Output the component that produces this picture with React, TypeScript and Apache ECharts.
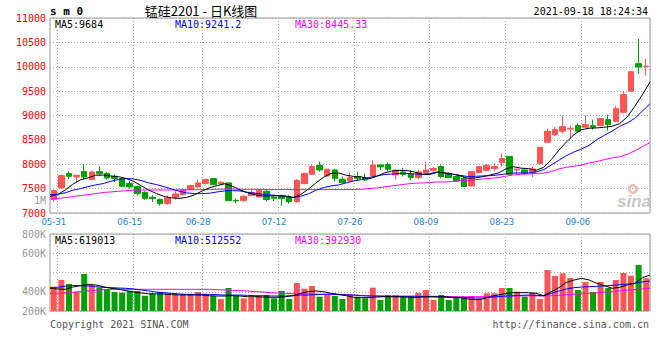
import React, { useEffect, useRef } from "react";
import * as echarts from "echarts";

// ---------- data ----------
const dates = [
  "05-31","06-01","06-02","06-03","06-04","06-07","06-08","06-09","06-10","06-11",
  "06-15","06-16","06-17","06-18","06-21","06-22","06-23","06-24","06-25","06-28",
  "06-29","06-30","07-01","07-02","07-05","07-06","07-07","07-08","07-09","07-12",
  "07-13","07-14","07-15","07-16","07-19","07-20","07-21","07-22","07-23","07-26",
  "07-27","07-28","07-29","07-30","08-02","08-03","08-04","08-05","08-06","08-09",
  "08-10","08-11","08-12","08-13","08-16","08-17","08-18","08-19","08-20","08-23",
  "08-24","08-25","08-26","08-27","08-30","08-31","09-01","09-02","09-03","09-06",
  "09-07","09-08","09-09","09-10","09-13","09-14","09-15","09-16","09-17",
];
const labeledDates = ["05-31", "06-15", "06-28", "07-12", "07-26", "08-09", "08-23", "09-06"];

const opens = [
  7275, 7514, 7808, 7740, 7849, 7685, 7849, 7808, 7753, 7706,
  7603, 7541, 7425, 7323, 7275, 7193, 7323, 7377, 7480, 7535,
  7603, 7706, 7596, 7617, 7261, 7254, 7357, 7330, 7446, 7323,
  7340, 7328, 7233, 7603, 7794, 7972, 7761, 7883, 7692, 7658,
  7747, 7726, 7761, 7986, 7993, 7781, 7842, 7794, 7726, 7828,
  7876, 7952, 7808, 7747, 7706, 7556, 7828, 7876, 7911, 8034,
  8157, 7883, 7883, 7835, 8013, 8451, 8608, 8676, 8724, 8792,
  8759, 8792, 8792, 8915, 8881, 9066, 9497, 10064, 10003,
];
const closes = [
  7459, 7767, 7753, 7774, 7740, 7842, 7808, 7719, 7706, 7549,
  7535, 7398, 7295, 7295, 7193, 7309, 7391, 7473, 7562, 7617,
  7685, 7583, 7630, 7254, 7248, 7343, 7425, 7466, 7275, 7302,
  7300, 7233, 7672, 7808, 7952, 7883, 7897, 7712, 7624, 7726,
  7706, 7678, 7986, 7945, 7897, 7877, 7794, 7726, 7842, 7883,
  7911, 7747, 7726, 7658, 7542, 7849, 7952, 7979, 7952, 8116,
  7794, 7897, 7815, 7904, 8348, 8676, 8711, 8772, 8738, 8676,
  8813, 8759, 8936, 8813, 9141, 9428, 9900, 9996, 10010,
];
const lows = [
  7227, 7500, 7699, 7637, 7699, 7671, 7753, 7685, 7637, 7535,
  7500, 7357, 7275, 7227, 7152, 7172, 7275, 7357, 7466, 7514,
  7583, 7569, 7583, 7254, 7206, 7227, 7343, 7309, 7241, 7241,
  7150, 7193, 7213, 7589, 7781, 7849, 7747, 7644, 7603, 7644,
  7658, 7658, 7740, 7883, 7863, 7692, 7747, 7672, 7692, 7794,
  7849, 7712, 7712, 7644, 7535, 7542, 7815, 7849, 7863, 7945,
  7760, 7781, 7794, 7740, 8013, 8437, 8574, 8629, 8526, 8663,
  8745, 8711, 8779, 8690, 8861, 9052, 9497, 9852, 9825,
];
const highs = [
  7480, 7788, 7856, 7788, 7993, 7870, 7958, 7842, 7788, 7719,
  7651, 7562, 7446, 7364, 7295, 7357, 7446, 7500, 7583, 7685,
  7706, 7706, 7651, 7617, 7295, 7364, 7466, 7480, 7466, 7357,
  7380, 7364, 7692, 7829, 8000, 8054, 7911, 7897, 7747, 7829,
  7849, 7808, 8082, 7986, 8034, 7897, 7931, 7883, 7883, 8054,
  7945, 7979, 7829, 7760, 7740, 7849, 7952, 8013, 8020, 8218,
  8157, 7917, 7897, 7945, 8348, 8731, 8765, 8984, 8799, 8834,
  8998, 8915, 8950, 9018, 9189, 9497, 9900, 10569, 10160,
];
const volumes = [
  406000, 531000, 463000, 331000, 634000, 446000, 400000, 360000, 326000, 314000,
  348000, 343000, 262000, 297000, 326000, 303000, 286000, 286000, 286000, 326000,
  291000, 257000, 206000, 394000, 257000, 218000, 235000, 257000, 274000, 218000,
  343000, 206000, 480000, 382000, 429000, 245000, 274000, 257000, 206000, 274000,
  245000, 218000, 400000, 189000, 274000, 274000, 245000, 245000, 309000, 360000,
  189000, 274000, 189000, 245000, 218000, 257000, 200000, 303000, 303000, 394000,
  394000, 331000, 245000, 314000, 206000, 703000, 600000, 646000, 566000, 360000,
  497000, 326000, 497000, 394000, 531000, 651000, 605000, 789000, 561000,
];

// moving-average lines: first value at the left edge,
// then one value at the end of each trading day
const priceMA5 = [
  7340,
  7380, 7470, 7590, 7680, 7720, 7775, 7778, 7758, 7745, 7710,
  7650, 7560, 7470, 7400, 7340, 7310, 7300, 7320, 7370, 7450,
  7520, 7560, 7600, 7550, 7475, 7415, 7375, 7350, 7350, 7355,
  7350, 7320, 7375, 7490, 7615, 7730, 7812, 7820, 7775, 7750,
  7740, 7700, 7750, 7820, 7860, 7875, 7870, 7840, 7795, 7790,
  7835, 7825, 7800, 7760, 7715, 7720, 7745, 7780, 7820, 7900,
  7950, 7920, 7910, 7875, 7938, 8095, 8287, 8458, 8608, 8711,
  8738, 8745, 8759, 8779, 8834, 8970, 9189, 9428, 9684,
];
const priceMA10 = [
  7375,
  7385, 7415, 7466, 7500, 7541, 7576, 7603, 7651, 7685, 7706,
  7699, 7665, 7617, 7583, 7541, 7494, 7446, 7412, 7398, 7398,
  7405, 7432, 7453, 7459, 7453, 7425, 7405, 7384, 7371, 7357,
  7343, 7316, 7343, 7391, 7466, 7521, 7556, 7576, 7617, 7658,
  7685, 7726, 7760, 7788, 7801, 7808, 7812, 7801, 7794, 7808,
  7842, 7815, 7794, 7774, 7747, 7753, 7760, 7767, 7781, 7801,
  7822, 7822, 7822, 7842, 7890, 7986, 8082, 8177, 8253, 8314,
  8389, 8506, 8595, 8677, 8779, 8847, 8943, 9090, 9241.2,
];
const priceMA30 = [
  7290,
  7295, 7316, 7336, 7357, 7377, 7398, 7420, 7432, 7446, 7459,
  7466, 7470, 7473, 7473, 7473, 7473, 7473, 7476, 7478, 7480,
  7483, 7487, 7490, 7490, 7488, 7486, 7484, 7482, 7480, 7480,
  7480, 7480, 7480, 7480, 7480, 7480, 7480, 7480, 7480, 7482,
  7487, 7500, 7514, 7535, 7556, 7576, 7595, 7610, 7617, 7624,
  7637, 7637, 7644, 7665, 7672, 7685, 7699, 7712, 7726, 7753,
  7781, 7794, 7801, 7810, 7822, 7849, 7904, 7938, 7958, 7986,
  8027, 8054, 8095, 8129, 8150, 8205, 8275, 8360, 8445.33,
];
// volume moving averages, in thousands
const volMA5K = [
  389,
  377, 372, 411, 434, 457, 446, 417, 389, 377, 348,
  325, 310, 295, 295, 290, 280, 276, 274, 274, 274,
  262, 257, 257, 262, 257, 245, 245, 240, 235, 235,
  245, 262, 303, 331, 343, 331, 303, 286, 262, 235,
  229, 229, 240, 245, 245, 245, 240, 229, 240, 245,
  245, 245, 235, 229, 206, 194, 206, 251, 274, 297,
  314, 314, 314, 303, 262, 331, 400, 491, 531, 560,
  531, 474, 434, 389, 406, 446, 474, 570, 619.013,
];
const volMA10K = [
  406,
  406, 423, 440, 434, 429, 417, 406, 400, 394, 389,
  377, 360, 343, 326, 314, 303, 291, 286, 286, 286,
  286, 280, 274, 274, 274, 268, 262, 262, 257, 257,
  257, 262, 274, 274, 280, 286, 291, 280, 280, 274,
  262, 257, 257, 251, 245, 245, 245, 245, 245, 245,
  240, 235, 229, 229, 229, 223, 223, 235, 245, 257,
  262, 268, 274, 268, 262, 303, 343, 377, 400, 411,
  417, 423, 429, 440, 451, 463, 474, 500, 512.552,
];
const volMA30K = [
  300,
  303, 309, 320, 331, 343, 354, 366, 372, 372, 372,
  372, 372, 372, 372, 372, 372, 372, 372, 372, 372,
  372, 366, 360, 354, 348, 343, 331, 326, 314, 309,
  303, 297, 291, 291, 291, 286, 280, 280, 276, 272,
  266, 260, 257, 257, 257, 257, 257, 257, 255, 253,
  251, 249, 247, 245, 245, 245, 245, 245, 248, 251,
  257, 260, 260, 258, 257, 262, 270, 280, 288, 297,
  303, 312, 322, 332, 345, 357, 368, 380, 392.93,
];

const headerCode = "s m 0";
const headerTitle = "锰硅2201 - 日K线图";
const headerTime = "2021-09-18 18:24:34";
const priceLegend = [
  ["MA5", "9684"],
  ["MA10", "9241.2"],
  ["MA30", "8445.33"],
];
const volumeLegend = [
  ["MA5", "619013"],
  ["MA10", "512552"],
  ["MA30", "392930"],
];
const volumeTickLabels = ["200K", "400K", "", "600K", "800K"];
const strayVolumeLabel = "1M";
const footerLeft = "Copyright 2021 SINA.COM";
const footerRight = "http://finance.sina.com.cn";
const watermark = "sina";

// ---------- styles ----------
const UP = "#ff5555";
const DOWN = "#00a000";
const MA_COLORS = ["#000000", "#0000ff", "#ff00ff"];
const GRID_LINE = { color: "#aaaaaa", width: 1, type: [1, 2] as any };
const MONO = '"DejaVu Sans Mono", monospace';

function text(t: string, x: number, y: number, fill: string, font: string, align = "left", z = 100, bg?: string) {
  return {
    type: "text",
    x,
    y,
    z,
    style: {
      text: t,
      fill,
      font,
      align,
      verticalAlign: "middle",
      textAlign: align,
      textVerticalAlign: "middle",
      backgroundColor: bg,
    },
  };
}

export default function App() {
  const ref = useRef<HTMLDivElement>(null);

  useEffect(() => {
    if (!ref.current) return;
    const chart = echarts.init(ref.current, undefined, { renderer: "svg" });

    const isLabeled = (_i: number, v: string) => labeledDates.includes(v);
    const isSplit = (i: number) => i > 0 && labeledDates.includes(dates[i - 1]);

    const catAxis = (gridIndex: number, showLabel: boolean) => ({
      type: "category",
      gridIndex,
      data: dates,
      boundaryGap: true,
      axisLine: { show: false },
      axisTick: { show: false },
      axisLabel: {
        show: showLabel,
        interval: isLabeled,
        color: "#1a7fd9",
        fontFamily: '"DejaVu Sans Condensed", sans-serif',
        fontSize: 9.5,
        margin: 3,
      },
      splitLine: { show: true, interval: isSplit, lineStyle: GRID_LINE },
    });

    const lineSeries = (vals: number[], color: string, xAxisIndex: number, yAxisIndex: number) => ({
      type: "line",
      xAxisIndex,
      yAxisIndex,
      data: vals.map((v, k) => [k - 0.5, v]),
      symbol: "none",
      showSymbol: false,
      silent: true,
      lineStyle: { color, width: 1 },
    });

    const graphics: any[] = [
      text(headerCode, 50, 11, "#000", `bold 11px ${MONO}`),
      text(headerTitle, 201, 10, "#000", '13px "Noto Sans CJK SC"', "center"),
      text(headerTime, 648, 11, "#000", `10px ${MONO}`, "right"),
      text(strayVolumeLabel, 46, 200, "#999", `10px ${MONO}`, "right"),
      text(footerLeft, 50, 324, "#555", `10px ${MONO}`),
      text(footerRight, 649, 324, "#555", `10px ${MONO}`, "right"),
      {
        type: "ring",
        z: 1,
        shape: { cx: 633, cy: 189, r: 5, r0: 2.5 },
        style: { fill: "#f3b4b4" },
      },
      text(watermark, 617, 201, "#c8c8c8", 'italic bold 17px "Liberation Sans"', "left", 1),
    ];
    const legendX = [55, 175, 295];
    priceLegend.forEach(([n, v], k) =>
      graphics.push(text(`${n}:${v}`, legendX[k], 24, MA_COLORS[k], `10px ${MONO}`, "left", 100, "#fff"))
    );
    volumeLegend.forEach(([n, v], k) =>
      graphics.push(text(`${n}:${v}`, legendX[k], 240, MA_COLORS[k], `10px ${MONO}`, "left", 100, "#fff"))
    );

    const option: any = {
      animation: false,
      backgroundColor: "#ffffff",
      grid: [
        { left: 50, top: 18, width: 600, height: 195, show: true, borderColor: "#999", borderWidth: 1 },
        { left: 50, top: 234, width: 600, height: 77, show: true, borderColor: "#999", borderWidth: 1 },
      ],
      xAxis: [
        catAxis(0, true),
        catAxis(1, false),
        { type: "value", gridIndex: 0, min: -0.5, max: 78.5, show: false },
        { type: "value", gridIndex: 1, min: -0.5, max: 78.5, show: false },
      ],
      yAxis: [
        {
          type: "value",
          gridIndex: 0,
          min: 7000,
          max: 11000,
          interval: 500,
          axisLine: { show: false },
          axisTick: { show: false },
          axisLabel: { color: "#ff0000", fontFamily: MONO, fontSize: 10, margin: 4, formatter: (v: number) => String(v) },
          splitLine: { show: true, lineStyle: GRID_LINE },
        },
        {
          type: "value",
          gridIndex: 1,
          min: 0,
          max: 1320000,
          interval: 330000,
          axisLine: { show: false },
          axisTick: { show: false },
          axisLabel: {
            color: "#999999",
            fontFamily: MONO,
            fontSize: 10,
            margin: 4,
            formatter: (_v: number, i: number) => volumeTickLabels[i] ?? "",
          },
          splitLine: { show: true, lineStyle: GRID_LINE },
        },
      ],
      series: [
        {
          type: "candlestick",
          xAxisIndex: 0,
          yAxisIndex: 0,
          barWidth: 6,
          data: opens.map((o, i) => [o, closes[i], lows[i], highs[i]]),
          itemStyle: { color: UP, color0: DOWN, borderColor: UP, borderColor0: DOWN, borderWidth: 1 },
        },
        lineSeries(priceMA30, MA_COLORS[2], 2, 0),
        lineSeries(priceMA10, MA_COLORS[1], 2, 0),
        lineSeries(priceMA5, MA_COLORS[0], 2, 0),
        {
          type: "bar",
          xAxisIndex: 1,
          yAxisIndex: 1,
          barWidth: 6,
          data: volumes.map((v, i) => ({ value: v, itemStyle: { color: closes[i] >= opens[i] ? UP : DOWN } })),
        },
        lineSeries(volMA30K.map((v) => v * 1000), MA_COLORS[2], 3, 1),
        lineSeries(volMA10K.map((v) => v * 1000), MA_COLORS[1], 3, 1),
        lineSeries(volMA5K.map((v) => v * 1000), MA_COLORS[0], 3, 1),
      ],
      graphic: graphics,
    };

    chart.setOption(option);
    return () => chart.dispose();
  }, []);

  return (
    <div
      ref={ref}
      style={{ position: "absolute", left: 0, top: 0, width: 660, height: 360, background: "#fff" }}
    />
  );
}
